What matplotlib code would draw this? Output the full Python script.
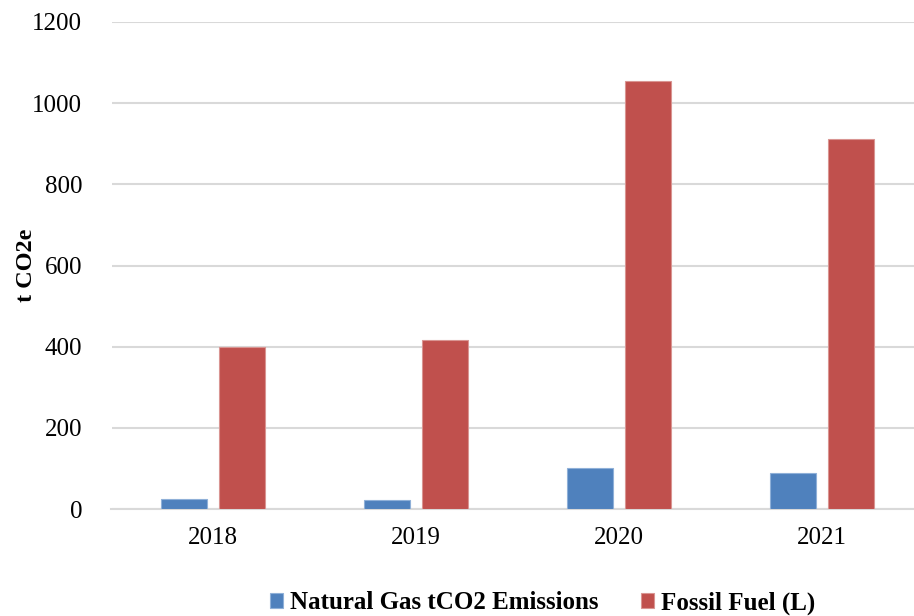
import numpy as np
import matplotlib.pyplot as plt

plt.rcParams['font.family'] = ['Liberation Serif', 'DejaVu Serif']

years = ['2018', '2019', '2020', '2021']
natural_gas = [24, 21, 100, 89]
fossil_fuel = [400, 416, 1055, 911]

fig = plt.figure(figsize=(9.14, 6.16), dpi=100)
ax = fig.add_axes([111.5 / 914, 107 / 616, 812 / 914, 487 / 616])

x = np.arange(len(years))
bw = 0.222
off = 0.143
ax.bar(x - off, natural_gas, bw, color='#4F81BD', edgecolor='#8FB0D8', linewidth=0.8,
       label='Natural Gas tCO2 Emissions', zorder=3)
ax.bar(x + off, fossil_fuel, bw, color='#C0504D', edgecolor='#D99592', linewidth=0.8,
       label='Fossil Fuel (L)', zorder=3)

ax.set_xlim(-0.5, 3.5)
ax.set_ylim(0, 1200)
ax.set_yticks(np.arange(0, 1201, 200))
ax.set_xticks(x)
ax.set_xticklabels(years)
ax.grid(axis='y', color='#D9D9D9', linewidth=1.5, zorder=0)
ax.set_axisbelow(True)
for s in ['top', 'right', 'left']:
    ax.spines[s].set_visible(False)
ax.spines['bottom'].set_color('#D9D9D9')
ax.spines['bottom'].set_linewidth(1.5)
ax.tick_params(axis='both', length=0, labelsize=18, colors='#000000')
ax.tick_params(axis='x', pad=13)
ax.tick_params(axis='y', pad=21)
ax.set_ylabel('t CO2e', fontsize=17.5, fontweight='bold')
ax.yaxis.set_label_coords(-0.092, 0.5)

fig.legend(loc='center', bbox_to_anchor=(543 / 914, 13 / 616), ncol=2,
           frameon=False, prop={'size': 18, 'weight': 'bold'},
           handlelength=0.5, handleheight=0.5, handletextpad=0.3,
           columnspacing=1.7, borderaxespad=0)

fig.savefig('out.png', dpi=100)
